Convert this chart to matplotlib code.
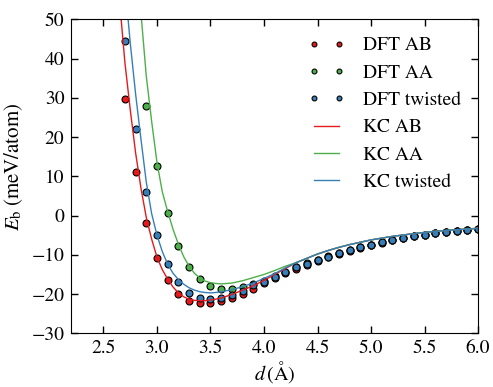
import numpy as np
import matplotlib
matplotlib.use('Agg')
import matplotlib.pyplot as plt

plt.rcParams['font.family'] = ['STIXGeneral', 'Liberation Serif', 'DejaVu Serif']
plt.rcParams['mathtext.fontset'] = 'stix'
plt.rcParams['xtick.direction'] = 'in'
plt.rcParams['ytick.direction'] = 'in'
plt.rcParams['xtick.top'] = True
plt.rcParams['ytick.right'] = True

# DFT points
d_ab = [2.7, 2.8, 2.9, 3.0, 3.1, 3.2, 3.3, 3.4, 3.5, 3.6, 3.7, 3.8, 3.9, 4.0, 4.1, 4.2, 4.3,
        4.4, 4.5, 4.6, 4.7, 4.8, 4.9, 5.0, 5.1, 5.2, 5.3, 5.4, 5.5, 5.6, 5.7, 5.8, 5.9, 6.0]
e_ab = [29.7, 11.1, -1.8, -10.7, -16.3, -19.9, -21.8, -22.4, -22.4, -21.8, -20.9, -19.9, -18.6,
        -17.2, -16.0, -14.7, -13.5, -12.5, -11.5, -10.6, -9.7, -8.9, -8.2, -7.5, -6.9, -6.3,
        -5.8, -5.3, -4.9, -4.5, -4.1, -3.9, -3.6, -3.4]

d_aa = [2.8, 2.9, 3.0, 3.1, 3.2, 3.3, 3.4, 3.5, 3.6, 3.7, 3.8, 3.9, 4.0, 4.1, 4.2, 4.3, 4.4,
        4.5, 4.6, 4.7, 4.8, 4.9, 5.0, 5.1, 5.2, 5.3, 5.4, 5.5, 5.6, 5.7, 5.8, 5.9, 6.0]
e_aa = [51.0, 27.8, 12.6, 0.6, -7.8, -13.0, -16.2, -17.9, -18.7, -18.6, -18.1, -17.5, -16.6,
        -15.5, -14.3, -13.1, -12.2, -11.2, -10.4, -9.6, -8.8, -8.1, -7.5, -6.8, -6.3, -5.8,
        -5.3, -4.9, -4.5, -4.1, -3.9, -3.6, -3.4]

d_tw = d_ab
e_tw = [44.5, 22.0, 6.0, -5.0, -12.4, -17.0, -19.6, -20.9, -21.2, -21.0, -20.3, -19.1, -17.8,
        -16.8, -15.6, -14.4, -13.2, -12.3, -11.3, -10.5, -9.6, -8.8, -8.1, -7.5, -6.8, -6.3,
        -5.8, -5.3, -4.9, -4.5, -4.1, -3.9, -3.6, -3.4]

# KC curves
kc_d_ab = [2.665, 2.70, 2.75, 2.80, 2.85, 2.90, 2.95, 3.00, 3.05, 3.10, 3.15, 3.20, 3.25, 3.30,
           3.35, 3.40, 3.45, 3.50, 3.55, 3.60, 3.70, 3.80, 3.90, 4.00, 4.10, 4.20, 4.30, 4.40,
           4.50, 4.60, 4.70, 4.80, 4.90, 5.00, 5.20, 5.40, 5.60, 5.80, 6.00]
kc_e_ab = [50.0, 39.0, 27.0, 16.0, 7.0, -0.5, -6.0, -10.6, -13.8, -16.2, -18.2, -19.7, -20.7,
           -21.3, -21.6, -21.7, -21.7, -21.5, -21.3, -21.0, -20.1, -19.0, -17.9, -16.5, -15.0,
           -13.5, -12.0, -10.9, -9.8, -8.9, -8.1, -7.4, -6.8, -6.2, -5.3, -4.6, -4.0, -3.6, -3.25]

kc_d_aa = [2.855, 2.90, 2.95, 3.00, 3.05, 3.10, 3.15, 3.20, 3.25, 3.30, 3.35, 3.40, 3.45, 3.50,
           3.55, 3.60, 3.70, 3.80, 3.90, 4.00, 4.10, 4.20, 4.30, 4.40, 4.50, 4.60, 4.70, 4.80,
           4.90, 5.00, 5.20, 5.40, 5.60, 5.80, 6.00]
kc_e_aa = [50.0, 35.5, 24.0, 13.5, 6.0, 1.0, -3.5, -7.3, -10.5, -12.9, -14.7, -15.9, -16.7,
           -17.1, -17.3, -17.4, -17.2, -16.6, -15.8, -15.0, -14.0, -12.9, -12.0, -10.9, -9.8,
           -8.9, -8.1, -7.4, -6.8, -6.2, -5.3, -4.6, -4.0, -3.6, -3.25]

kc_d_tw = [2.73, 2.75, 2.80, 2.85, 2.90, 2.95, 3.00, 3.05, 3.10, 3.15, 3.20, 3.25, 3.30, 3.35,
           3.40, 3.45, 3.50, 3.55, 3.60, 3.70, 3.80, 3.90, 4.00, 4.10, 4.20, 4.30, 4.40, 4.50,
           4.60, 4.70, 4.80, 4.90, 5.00, 5.20, 5.40, 5.60, 5.80, 6.00]
kc_e_tw = [50.0, 44.0, 31.0, 19.5, 8.5, 0.5, -5.0, -9.2, -12.4, -14.7, -16.3, -17.5, -18.4,
           -19.0, -19.4, -19.6, -19.7, -19.6, -19.4, -18.9, -18.1, -17.2, -16.0, -14.8, -13.3,
           -12.0, -10.9, -9.8, -8.9, -8.1, -7.4, -6.8, -6.2, -5.3, -4.6, -4.0, -3.6, -3.25]

red = '#e41a1c'
green = '#4daf4a'
blue = '#377eb8'

fig = plt.figure(figsize=(4.93, 3.87), dpi=100)
ax = fig.add_axes([0.1448, 0.1387, 0.8248, 0.8114])

ms = 5
ax.plot(d_ab, e_ab, 'o', color=red, mec='k', mew=0.8, ms=ms, label='DFT AB')
ax.plot(d_aa, e_aa, 'o', color=green, mec='k', mew=0.8, ms=ms, label='DFT AA')
ax.plot(d_tw, e_tw, 'o', color=blue, mec='k', mew=0.8, ms=ms, label='DFT twisted')
ax.plot(kc_d_ab, kc_e_ab, '-', color=red, lw=1.0, label='KC AB')
ax.plot(kc_d_aa, kc_e_aa, '-', color=green, lw=1.0, label='KC AA')
ax.plot(kc_d_tw, kc_e_tw, '-', color=blue, lw=1.0, label='KC twisted')

ax.set_xlim(2.2, 6.0)
ax.set_ylim(-30, 50)
ax.set_xticks(np.arange(2.5, 6.01, 0.5))
ax.set_yticks(np.arange(-30, 51, 10))
ax.tick_params(labelsize=14, length=5, width=1, pad=5)
ax.set_xlabel(r'$d\,(\mathrm{\AA})$', fontsize=14.5, labelpad=1)
ax.set_ylabel(r'$E_{\mathrm{b}}\;(\mathrm{meV/atom})$', fontsize=15)
ax.yaxis.set_label_coords(-0.115, 0.53)

ax.legend(loc='upper right', frameon=False, fontsize=14, numpoints=2, markerscale=0.7,
          handlelength=1.9, handletextpad=0.9, labelspacing=0.5, borderaxespad=0.5)

fig.savefig('out.png', dpi=100)
